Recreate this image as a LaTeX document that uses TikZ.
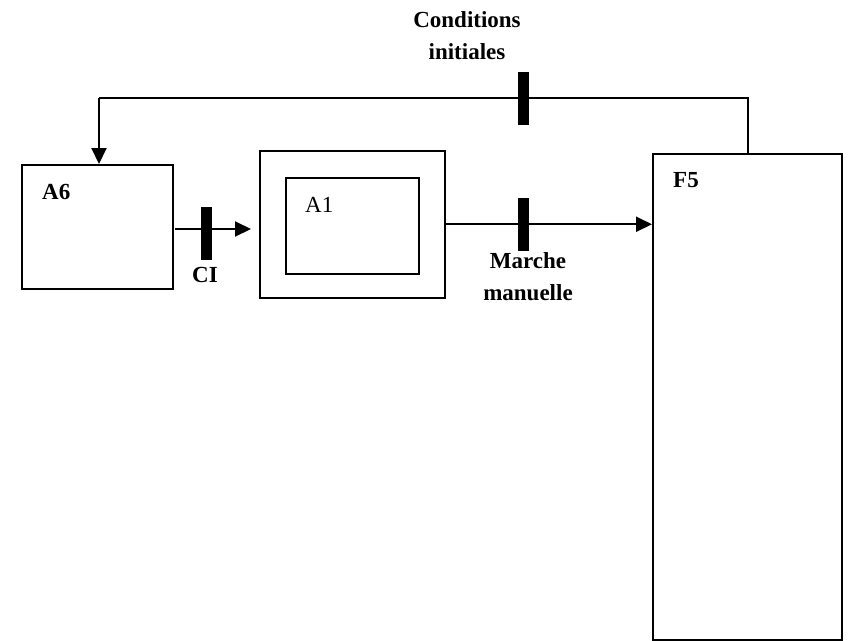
\documentclass[tikz,border=0pt]{standalone}
\usepackage{fontspec}
\setmainfont{Liberation Serif}
\usetikzlibrary{arrows.meta}
\begin{document}
\begin{tikzpicture}[x=1pt,y=-1pt,
  box/.style={draw,line width=1.5pt,inner sep=0,anchor=north west},
  bar/.style={fill=black,inner sep=0,minimum width=11pt,minimum height=53pt},
  lbl/.style={font=\fontsize{23}{31}\selectfont\bfseries,inner sep=0,anchor=base west},
  tag/.style={font=\fontsize{23}{32}\selectfont\bfseries,align=center,inner sep=0},
  arr/.style={line width=2pt,-{Triangle[length=16pt,width=15pt]}},
  thin/.style={line width=1.5pt}]
\useasboundingbox (0,0) rectangle (850,640);
% boxes
\node[box,minimum width=151pt,minimum height=124pt] (A6) at (21,164) {};
\node[box,minimum width=185pt,minimum height=147pt] (A1o) at (259,150) {};
\node[box,minimum width=133pt,minimum height=96pt] (A1i) at (285,177) {};
\node[box,minimum width=189pt,minimum height=486pt] (F5) at (652,153) {};
% box labels
\node[lbl] (tA6) at (42,199) {A6};
\node[lbl,font=\fontsize{23}{31}\selectfont] (tA1) at (305,212) {A1};
\node[lbl] (tF5) at (673,187) {F5};
% coordinates
\coordinate (ciL) at (175,229);
\coordinate (ciR) at (251,229);
\coordinate (fbR) at (748,98);
\coordinate (fbL) at (99,98);
% connectors
\draw[arr] (ciL) -- (ciR);
\draw[arr] (A1o.east) -- (F5.west |- A1o.east);
\draw[thin] (F5.north -| fbR) -- (fbR) -- (fbL);
\draw[arr] (fbL) -- (fbL |- A6.north);
% bars
\node[bar] (b1) at (206,233) {};
\node[bar] (b2) at (523,224) {};
\node[bar] (b3) at (523,98) {};
% texts
\node[tag,anchor=base] (tCI) at (205,282) {CI};
\node[tag,anchor=base] (tMM) at (528,300) {Marche\\manuelle};
\node[tag,anchor=base] (tCond) at (467,59) {Conditions\\initiales};
\end{tikzpicture}
\end{document}
